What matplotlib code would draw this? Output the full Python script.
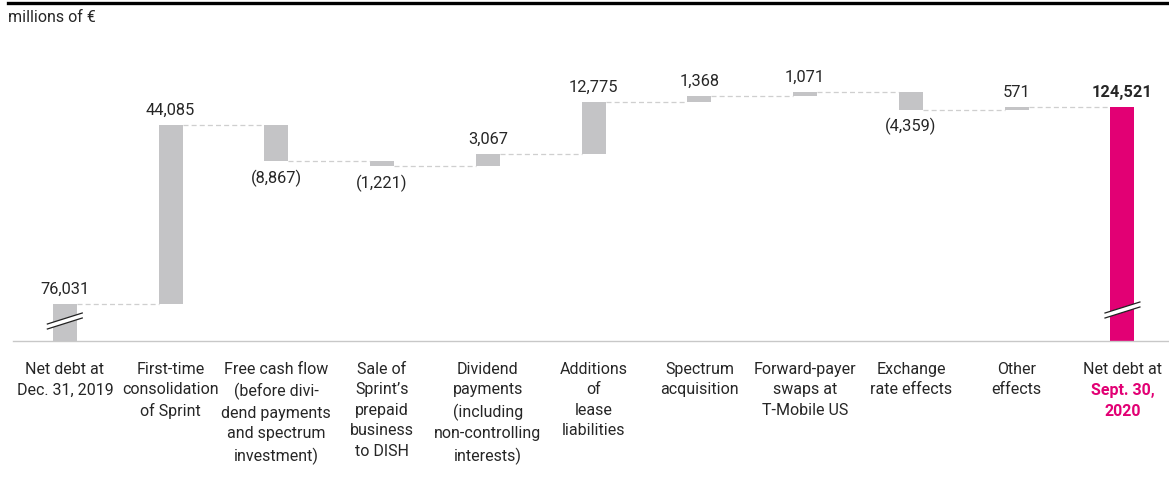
import matplotlib.pyplot as plt
from matplotlib.patches import Polygon

plt.rcParams['font.family'] = ['Roboto', 'DejaVu Sans']

# data
categories = ["Net debt at\nDec. 31, 2019", "First-time\nconsolidation\nof Sprint",
              "Free cash flow\n(before divi-\ndend payments\nand spectrum\ninvestment)",
              "Sale of\nSprint\u2019s\nprepaid\nbusiness\nto DISH",
              "Dividend\npayments\n(including\nnon-controlling\ninterests)",
              "Additions\nof\nlease\nliabilities", "Spectrum\nacquisition",
              "Forward-payer\nswaps at\nT-Mobile US", "Exchange\nrate effects",
              "Other\neffects", "Net debt at"]
start_value = 76031
changes = [44085, -8867, -1221, 3067, 12775, 1368, 1071, -4359, 571]
end_value = 124521
end_date = "Sept. 30,\n2020"

grey = "#c4c4c6"
magenta = "#e20074"
txt = "#262626"

W, H = 1169, 488
fig = plt.figure(figsize=(W / 100, H / 100), dpi=100)
ax = fig.add_axes([13 / W, 1 - 341 / H, 1 - 13 / W, (341 - 48) / H])
px = 246.5
ymin = start_value - 37 * px
ax.set_ylim(ymin, ymin + (341 - 48) * px)
ax.set_xlim(-0.49, 10.44)
bw = 0.227

# bars
ax.bar(0, start_value - ymin, bottom=ymin, width=bw, color=grey)
running = start_value
tops = [start_value]
for i, c in enumerate(changes, start=1):
    lo = min(running, running + c)
    ax.bar(i, abs(c), bottom=lo, width=bw, color=grey)
    running += c
    tops.append(running)
ax.bar(10, end_value - ymin, bottom=ymin, width=bw, color=magenta)
tops.append(end_value)

# connectors
for i in range(10):
    ax.plot([i + bw / 2, i + 1 - bw / 2], [tops[i], tops[i]], color="#cfcfcf",
            lw=0.9, ls=(0, (4, 2.5)), zorder=1)

# value labels
vfs = 11.8
def fmt(v):
    s = f"{abs(v):,}"
    return f"({s})" if v < 0 else s

ax.annotate(fmt(start_value), (0, start_value), xytext=(0, 5), textcoords="offset points",
            ha="center", va="bottom", fontsize=vfs, color=txt)
running = start_value
for i, c in enumerate(changes, start=1):
    if c >= 0:
        ax.annotate(fmt(c), (i, running + c), xytext=(0, 5), textcoords="offset points",
                    ha="center", va="bottom", fontsize=vfs, color=txt)
    else:
        ax.annotate(fmt(c), (i, running + c), xytext=(0, -6), textcoords="offset points",
                    ha="center", va="top", fontsize=vfs, color=txt)
    running += c
ax.annotate(fmt(end_value), (10, end_value), xytext=(0, 5), textcoords="offset points",
            ha="center", va="bottom", fontsize=vfs, color=txt, fontweight="bold")

# break marks
for xc, yp in [(0, 329), (10, 318)]:
    y0 = ymin + (341 - yp) * px
    dx, dy, gap = 0.165, 11 * px, 5 * px
    poly = Polygon([(xc - dx, y0), (xc + dx, y0 + dy), (xc + dx, y0 + dy + gap),
                    (xc - dx, y0 + gap)], closed=True, facecolor="white",
                   edgecolor="none", zorder=3)
    ax.add_patch(poly)
    ax.plot([xc - dx, xc + dx], [y0, y0 + dy], color="#222222", lw=0.9, zorder=4)
    ax.plot([xc - dx, xc + dx], [y0 + gap, y0 + dy + gap], color="#222222", lw=0.9, zorder=4)

# category labels
lfs = 11.5
for i, lab in enumerate(categories):
    ax.annotate(lab, (i, 0), xycoords=("data", "axes fraction"), xytext=(0, -15),
                textcoords="offset points", ha="center", va="top", fontsize=lfs,
                color=txt, linespacing=1.46)
ax.annotate(end_date, (10, 0), xycoords=("data", "axes fraction"), xytext=(0, -30.3),
            textcoords="offset points", ha="center", va="top", fontsize=lfs,
            color=magenta, fontweight="bold", linespacing=1.46)

for s in ["top", "right", "left"]:
    ax.spines[s].set_visible(False)
ax.spines["bottom"].set_color("#c8c8c8")
ax.spines["bottom"].set_linewidth(1)
ax.set_xticks([])
ax.set_yticks([])

fig.add_artist(plt.Line2D([8 / W, 1], [1 - 3 / H, 1 - 3 / H], color="black", lw=2.4))
fig.text(8 / W, 1 - 10 / H, "millions of \u20ac", ha="left", va="top", fontsize=11.5, color=txt)

fig.savefig("out.png", dpi=100)
